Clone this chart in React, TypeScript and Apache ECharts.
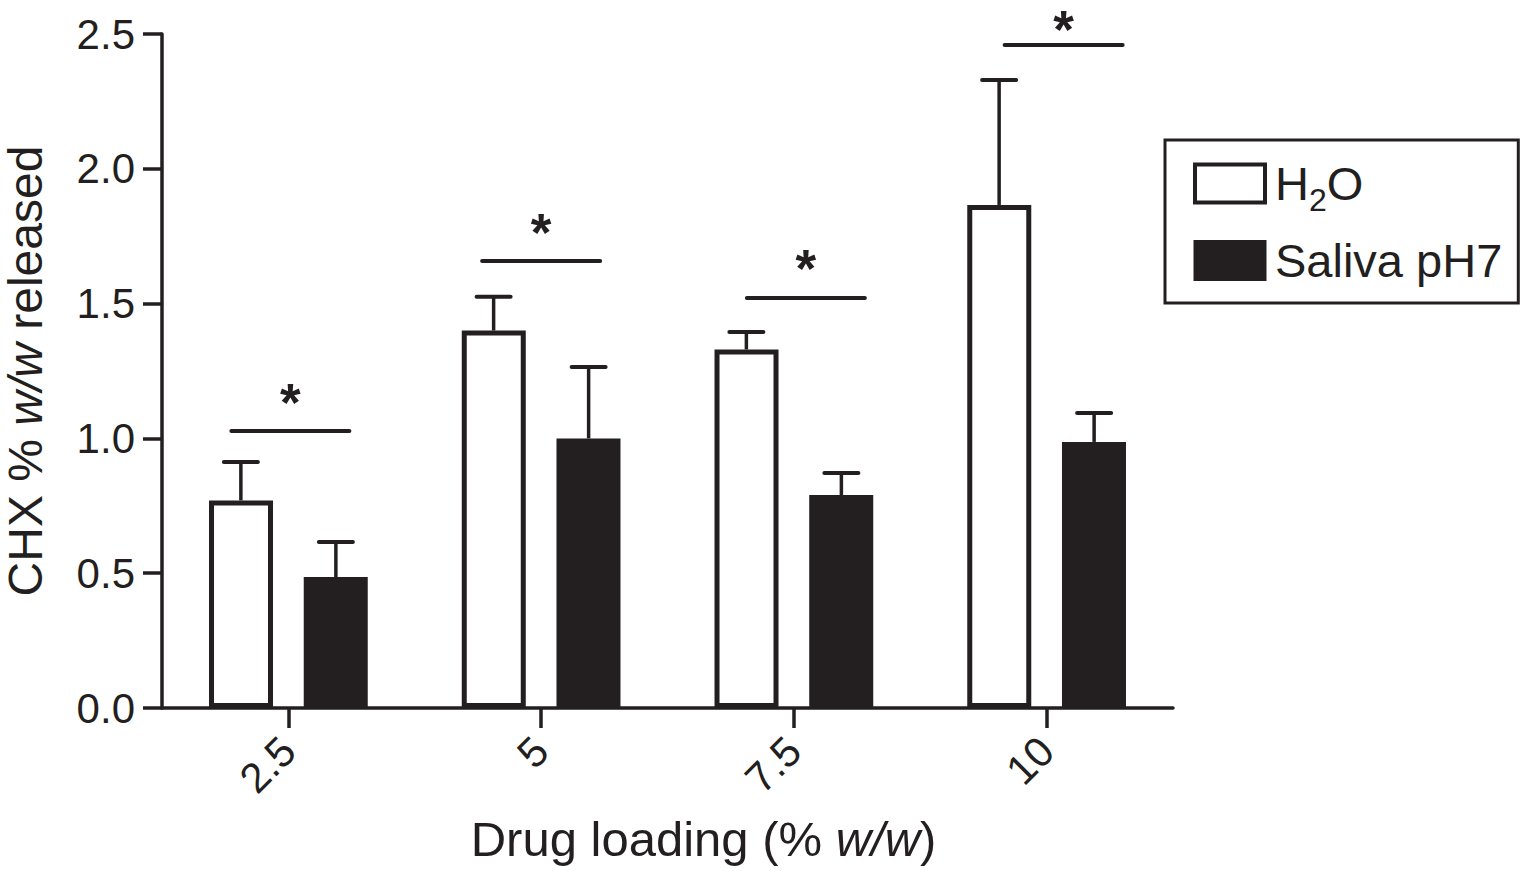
import React, { useEffect, useRef } from "react";
import * as echarts from "echarts";

// ---- data ----
const categories = ["2.5", "5", "7.5", "10"];
const h2oMean = [0.77, 1.4, 1.33, 1.866];
const h2oErr = [0.142, 0.125, 0.065, 0.463];
const salivaMean = [0.486, 1.0, 0.79, 0.987];
const salivaErr = [0.13, 0.265, 0.082, 0.107];
const sigLevel = [1.027, 1.658, 1.521, 2.459];
const sigMark = ["*", "*", "*", "*"];
const seriesNames = ["H2O", "Saliva pH7"];
const yMin = 0;
const yMax = 2.5;
const yStep = 0.5;

// ---- style ----
const INK = "#231f20";
const FONT = "'Liberation Sans', Arial, Helvetica, sans-serif";
const BAR_W = 64;
const BAR_GAP = "48%";
const BAR_OFFSET = 47.5;
const SIG_SHIFT = [2, 0, 12, 17];
const SIG_HALF = 59;
const STAR_SIZE = 53;
const STAR_RISE = 29;
const STAR_MIN_Y = 29;

function errorSeries(means: number[], errs: number[], offset: number) {
  return {
    type: "custom",
    clip: false,
    silent: true,
    z: 4,
    data: means.map((m, i) => [i, m, m + errs[i]]),
    renderItem: (_params: any, api: any) => {
      const base = api.coord([api.value(0), api.value(1)]);
      const top = api.coord([api.value(0), api.value(2)]);
      const x = base[0] + offset;
      return {
        type: "group",
        children: [
          {
            type: "line",
            shape: { x1: x, y1: base[1], x2: x, y2: top[1] },
            style: { stroke: INK, lineWidth: 3.5 },
          },
          {
            type: "line",
            shape: { x1: x - 17, y1: top[1], x2: x + 17, y2: top[1] },
            style: { stroke: INK, lineWidth: 4, lineCap: "round" },
          },
        ],
      };
    },
  };
}

export default function App() {
  const ref = useRef<HTMLDivElement>(null);
  useEffect(() => {
    if (!ref.current) return;
    const chart = echarts.init(ref.current, undefined, { renderer: "svg" });
    const option: any = {
      animation: false,
      backgroundColor: "#ffffff",
      grid: {
        left: 162,
        right: 350,
        top: 34,
        bottom: 163,
        containLabel: false,
        outerBoundsMode: "none",
      },
      legend: {
        orient: "vertical",
        left: 1165,
        top: 140,
        itemWidth: 70,
        itemHeight: 38,
        itemGap: 21,
        padding: [20, 16, 19, 28],
        borderColor: INK,
        borderWidth: 3,
        icon: "rect",
        selectedMode: false,
        data: [
          { name: seriesNames[0], itemStyle: { color: "#ffffff", borderColor: INK, borderWidth: 4 } },
          { name: seriesNames[1], itemStyle: { color: INK, borderColor: INK, borderWidth: 3 } },
        ],
        formatter: (n: string) => (n === "H2O" ? "{m|H}{s|2}{m|O}" : "{m|" + n + "}"),
        textStyle: {
          color: INK,
          fontFamily: FONT,
          fontSize: 47,
          lineHeight: 41,
          padding: [0, 0, 0, 5],
          rich: {
            m: { fontSize: 47, lineHeight: 41, fontFamily: FONT, color: INK },
            s: {
              fontSize: 32,
              lineHeight: 41,
              fontFamily: FONT,
              color: INK,
              verticalAlign: "top",
              padding: [21, 0, 0, 0],
            },
          },
        },
      },
      xAxis: {
        type: "category",
        data: categories,
        boundaryGap: true,
        name: "{n|Drug loading (% }{i|w/w}{n|)}",
        nameLocation: "middle",
        nameGap: 106,
        nameTextStyle: {
          padding: [0, 0, 0, 72],
          rich: {
            n: { fontSize: 49, fontFamily: FONT, color: INK },
            i: { fontSize: 49, fontFamily: FONT, color: INK, fontStyle: "italic" },
          },
        },
        axisLine: { show: true, lineStyle: { color: INK, width: 3.5 } },
        axisTick: { show: true, alignWithLabel: true, length: 20, lineStyle: { color: INK, width: 3.5 } },
        axisLabel: {
          rotate: 45,
          margin: 36,
          padding: [16, 0, 0, 0],
          fontSize: 42,
          fontFamily: FONT,
          color: INK,
        },
        splitLine: { show: false },
      },
      yAxis: {
        type: "value",
        min: yMin,
        max: yMax,
        interval: yStep,
        name: "{n|CHX % }{i|w/w}{n| released}",
        nameLocation: "middle",
        nameGap: 113,
        nameRotate: 90,
        nameTextStyle: {
          rich: {
            n: { fontSize: 48, fontFamily: FONT, color: INK },
            i: { fontSize: 48, fontFamily: FONT, color: INK, fontStyle: "italic" },
          },
        },
        axisLine: { show: true, lineStyle: { color: INK, width: 3.5 } },
        axisTick: { show: true, length: 19, lineStyle: { color: INK, width: 3.5 } },
        axisLabel: {
          margin: 27,
          fontSize: 42,
          fontFamily: FONT,
          color: INK,
          formatter: (v: number) => v.toFixed(1),
        },
        splitLine: { show: false },
      },
      series: [
        {
          name: seriesNames[0],
          type: "bar",
          data: h2oMean,
          barWidth: BAR_W,
          barGap: BAR_GAP,
          itemStyle: { color: "#ffffff", borderColor: INK, borderWidth: 5 },
          z: 2,
        },
        {
          name: seriesNames[1],
          type: "bar",
          data: salivaMean,
          barWidth: BAR_W,
          barGap: BAR_GAP,
          itemStyle: { color: INK, borderColor: INK, borderWidth: 3 },
          z: 2,
        },
        errorSeries(h2oMean, h2oErr, -BAR_OFFSET),
        errorSeries(salivaMean, salivaErr, BAR_OFFSET),
        {
          type: "custom",
          clip: false,
          silent: true,
          z: 4,
          data: sigLevel.map((v, i) => [i, v]),
          renderItem: (params: any, api: any) => {
            const p = api.coord([api.value(0), api.value(1)]);
            const cx = p[0] + SIG_SHIFT[params.dataIndex];
            return {
              type: "group",
              children: [
                {
                  type: "line",
                  shape: { x1: cx - SIG_HALF, y1: p[1], x2: cx + SIG_HALF, y2: p[1] },
                  style: { stroke: INK, lineWidth: 4, lineCap: "round" },
                },
                {
                  type: "text",
                  x: cx,
                  y: Math.max(STAR_MIN_Y, p[1] - STAR_RISE),
                  style: {
                    text: sigMark[params.dataIndex],
                    fontSize: STAR_SIZE,
                    lineHeight: 24,
                    fontWeight: "bold",
                    fontFamily: FONT,
                    fill: INK,
                    align: "center",
                    verticalAlign: "middle",
                  },
                },
              ],
            };
          },
        },
      ],
    };
    chart.setOption(option);
    return () => chart.dispose();
  }, []);
  return (
    <div
      ref={ref}
      style={{ position: "fixed", left: 0, top: 0, width: 1523, height: 871, background: "#fff" }}
    />
  );
}
